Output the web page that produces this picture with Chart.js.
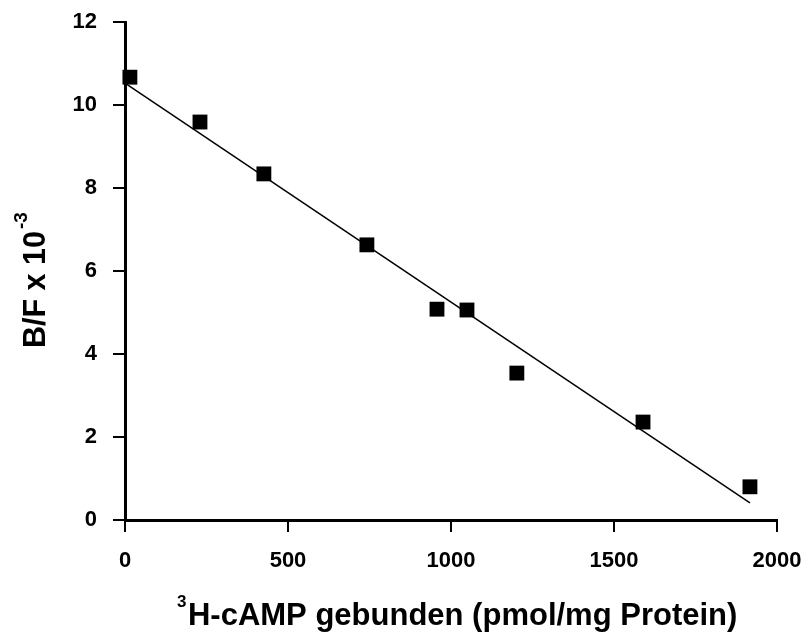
<!DOCTYPE html>
<html>
<head>
<meta charset="utf-8">
<script src="https://cdn.jsdelivr.net/npm/chart.js@4/dist/chart.umd.min.js"></script>
<style>
  html, body { margin: 0; padding: 0; background: #fff; }
  #wrap { width: 807px; height: 633px; }
</style>
</head>
<body>
<div id="wrap"><canvas id="scatchard" width="807" height="633"></canvas></div>
<script>
// Scatchard plot - bound cAMP vs B/F ratio

// measured points
const boundCamp = [15, 230, 426, 742, 957, 1049, 1202, 1589, 1917];
const bfRatio = [10.67, 9.59, 8.34, 6.63, 5.08, 5.06, 3.54, 2.36, 0.80];

// regression line end points
const fitX = [0, 1917];
const fitY = [10.53, 0.41];

// axis ticks
const xTicks = [0, 500, 1000, 1500, 2000];
const yTicks = [0, 2, 4, 6, 8, 10, 12];

const FONT = '"Liberation Sans", Arial, sans-serif';

function toPoints(xs, ys) {
    return xs.map((x, i) => ({ x: x, y: ys[i] }));
}

// draws the axis titles with their superscripts
const axisTitles = {
    id: 'axisTitles',
    afterDraw(chart) {
        const ctx = chart.ctx;
        ctx.save();
        ctx.fillStyle = '#000';
        ctx.textBaseline = 'alphabetic';
        ctx.textAlign = 'left';

        // x title
        let x = 177, y = 625;
        ctx.font = 'bold 17px ' + FONT;
        ctx.fillText('3', x, y - 18);
        x += ctx.measureText('3').width + 1.5;
        ctx.font = 'bold 31px ' + FONT;
        ctx.fillText('H-cAMP gebunden (pmol/mg Protein)', x, y);

        // y title, rotated
        ctx.translate(45, 348);
        ctx.rotate(-Math.PI / 2);
        ctx.font = 'bold 30.5px ' + FONT;
        const main = 'B/F x 10';
        ctx.fillText(main, 0, 0);
        const w = ctx.measureText(main).width;
        ctx.font = 'bold 19px ' + FONT;
        ctx.fillText('-3', w + 2, -18);
        ctx.restore();
    }
};

function initScatchardChart() {
    const ctx = document.getElementById('scatchard');
    if (!ctx) return;

    new Chart(ctx, {
        type: 'scatter',
        data: {
            datasets: [{
                label: 'B/F',
                data: toPoints(boundCamp, bfRatio),
                pointStyle: 'rect',
                pointRadius: 10.5,
                backgroundColor: '#000',
                borderColor: '#000',
                borderWidth: 0,
                clip: false
            }, {
                type: 'line',
                label: 'Fit',
                data: toPoints(fitX, fitY),
                borderColor: '#000',
                borderWidth: 1.5,
                pointRadius: 0,
                fill: false,
                clip: false
            }]
        },
        options: {
            responsive: false,
            animation: false,
            devicePixelRatio: 1,
            layout: { padding: { top: 22, right: 30, left: 0, bottom: 0 } },
            plugins: {
                legend: { display: false },
                tooltip: { enabled: false }
            },
            scales: {
                x: {
                    type: 'linear',
                    min: 0,
                    max: 2000,
                    afterBuildTicks: s => { s.ticks = xTicks.map(v => ({ value: v })); },
                    afterFit: s => { s.height = 113; s.paddingLeft = 0; s.paddingRight = 0; },
                    border: { color: '#000', width: 3 },
                    grid: { drawOnChartArea: false, tickLength: 12, color: '#000', lineWidth: 2 },
                    ticks: {
                        color: '#000',
                        font: { family: FONT, size: 22, weight: 'bold' },
                        padding: 16,
                        maxRotation: 0,
                        callback: v => String(v)
                    }
                },
                y: {
                    type: 'linear',
                    min: 0,
                    max: 12,
                    afterBuildTicks: s => { s.ticks = yTicks.map(v => ({ value: v })); },
                    afterFit: s => { s.width = 125; s.paddingTop = 0; s.paddingBottom = 0; },
                    border: { color: '#000', width: 3 },
                    grid: { drawOnChartArea: false, tickLength: 12, color: '#000', lineWidth: 2 },
                    ticks: {
                        color: '#000',
                        font: { family: FONT, size: 22, weight: 'bold' },
                        padding: 16,
                        callback: v => String(v)
                    }
                }
            }
        },
        plugins: [axisTitles]
    });
}

document.addEventListener('DOMContentLoaded', initScatchardChart);
</script>
</body>
</html>
